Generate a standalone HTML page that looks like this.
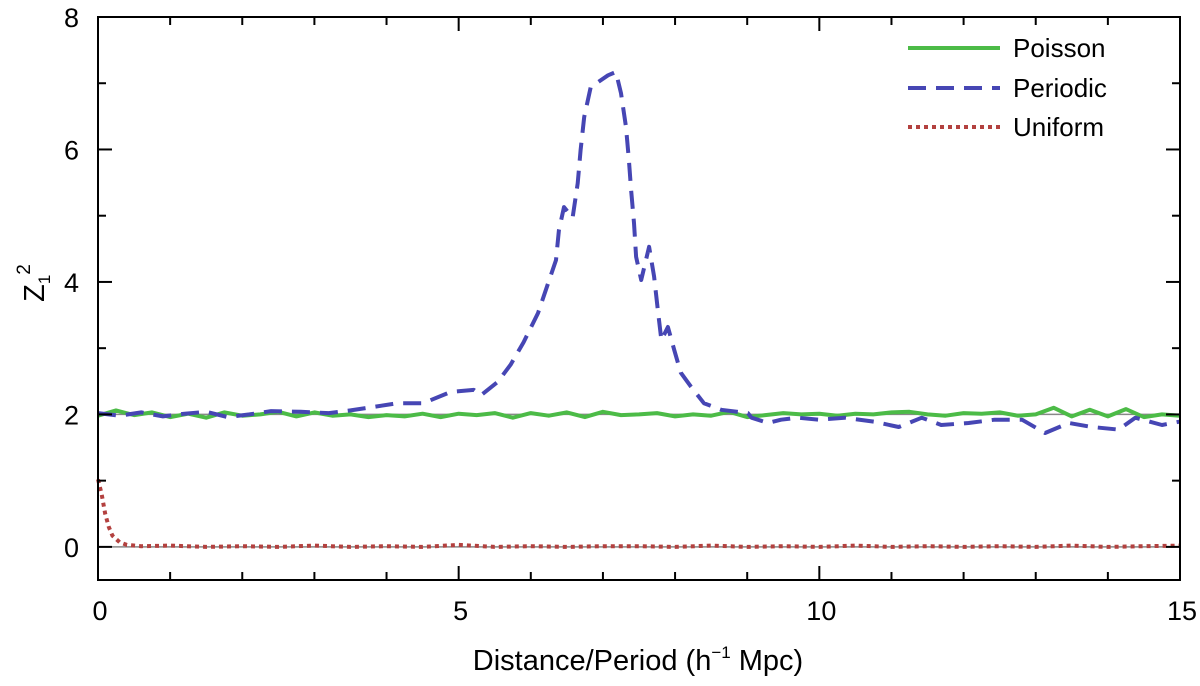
<!DOCTYPE html>
<html><head><meta charset="utf-8"><style>
body{margin:0;background:#fff}
svg text{font-family:"Liberation Sans",sans-serif;fill:#000}
</style></head><body>
<svg id="chart" width="1200" height="681" xmlns="http://www.w3.org/2000/svg">
<g id="grid"></g>
<g id="series"></g>
<g id="axes"></g>
<g>
<line x1="908" y1="48" x2="1000" y2="48" stroke="#4cbb47" stroke-width="4"/>
<text x="1013" y="57" font-size="26">Poisson</text>
<line x1="908" y1="88" x2="1000" y2="88" stroke="#4646b4" stroke-width="4" stroke-dasharray="18,10"/>
<text x="1013" y="97" font-size="26">Periodic</text>
<line x1="908" y1="127" x2="1000" y2="127" stroke="#b3413f" stroke-width="4" stroke-dasharray="4,4"/>
<text x="1013" y="136" font-size="26">Uniform</text>
</g>
<text x="638" y="670" font-size="29" text-anchor="middle">Distance/Period (h<tspan font-size="17" dy="-12">−1</tspan><tspan dy="12"> Mpc)</tspan></text>
<g transform="translate(44,283) rotate(-90)"><text x="0" y="0" font-size="29" text-anchor="middle">Z<tspan font-size="17" dy="6">1</tspan><tspan font-size="19" dy="-20">2</tspan></text></g>
</svg>
<script>
const xTicks=[0,5,10,15];
const yTicks=[0,2,4,6,8];
const periodicX=[0,0.3,0.6,0.9,1.2,1.5,1.8,2.1,2.4,2.81,3.2,3.5,3.74,4.15,4.51,4.89,5.21,5.31,5.54,5.72,5.90,6.10,6.24,6.35,6.39,6.46,6.58,6.65,6.69,6.74,6.83,7.07,7.18,7.25,7.32,7.36,7.39,7.43,7.46,7.53,7.64,7.71,7.76,7.81,7.90,7.99,8.08,8.22,8.40,8.64,9.01,9.06,9.29,9.47,9.7,9.99,10.35,10.76,11.10,11.42,11.69,12.07,12.43,12.81,13.13,13.46,13.78,14.15,14.38,14.75,14.99];
const periodicY=[2.02,1.98,2.03,1.97,2.01,2.04,1.96,2.0,2.05,2.04,2.02,2.06,2.10,2.17,2.17,2.34,2.37,2.29,2.49,2.75,3.09,3.53,3.98,4.33,4.78,5.13,4.97,5.49,5.99,6.49,6.94,7.12,7.17,6.85,6.34,5.84,5.39,4.89,4.38,4.03,4.53,4.08,3.58,3.12,3.32,2.97,2.63,2.42,2.17,2.07,2.02,1.95,1.87,1.92,1.95,1.92,1.95,1.89,1.81,1.95,1.84,1.87,1.92,1.92,1.72,1.87,1.81,1.77,1.95,1.84,1.89];
const poissonX=[0,0.25,0.5,0.75,1,1.25,1.5,1.75,2,2.25,2.5,2.75,3,3.25,3.5,3.75,4,4.25,4.5,4.75,5,5.25,5.5,5.75,6,6.25,6.5,6.75,7,7.25,7.5,7.75,8,8.25,8.5,8.75,9,9.25,9.5,9.75,10,10.25,10.5,10.75,11,11.25,11.5,11.75,12,12.25,12.5,12.75,13,13.25,13.5,13.75,14,14.25,14.5,14.75,15];
const poissonY=[1.98,2.06,1.99,2.03,1.96,2.01,1.95,2.03,1.98,2.0,2.04,1.97,2.03,1.98,2.0,1.96,1.99,1.97,2.01,1.96,2.01,1.99,2.02,1.95,2.02,1.98,2.03,1.96,2.04,1.99,2.0,2.02,1.97,2.0,1.98,2.04,1.96,1.99,2.02,2.0,2.01,1.98,2.01,2.0,2.03,2.04,2.0,1.98,2.02,2.01,2.03,1.98,2.0,2.1,1.97,2.07,1.97,2.08,1.96,2.0,1.98];
const uniformX=[0,0.05,0.1,0.15,0.2,0.3,0.4,0.6,1,1.5,2,2.5,3,3.5,4,4.5,5,5.5,6,6.5,7,7.5,8,8.5,9,9.5,10,10.5,11,11.5,12,12.5,13,13.5,14,14.5,15];
const uniformY=[1.02,0.8,0.5,0.3,0.17,0.07,0.03,0.01,0.02,0.0,0.01,0.0,0.02,0.0,0.01,0.0,0.03,0.0,0.01,0.0,0.01,0.01,0.0,0.02,0.0,0.01,0.0,0.02,0.0,0.01,0.0,0.01,0.0,0.02,0.0,0.01,0.02];

const X0=98,X1=1180,Y0=580,Y1=17;
const sx=v=>X0+(v-0)/15*(X1-X0);
const sy=v=>Y0-(v+0.5)/8.5*(Y0-Y1);
const NS="http://www.w3.org/2000/svg";
function mk(tag,attrs,parent){const e=document.createElementNS(NS,tag);for(const k in attrs)e.setAttribute(k,attrs[k]);parent.appendChild(e);return e;}
const grid=document.getElementById('grid'),series=document.getElementById('series'),axes=document.getElementById('axes');
[0,2].forEach(v=>{const l=mk('line',{x1:X0,x2:X1,y1:sy(v),y2:sy(v),stroke:'#888','stroke-width':1.5},grid);

});
function path(xs,ys,attrs,name){const d=xs.map((x,i)=>(i?'L':'M')+sx(x).toFixed(1)+','+sy(ys[i]).toFixed(1)).join('');
const p=mk('path',Object.assign({d:d,fill:'none','stroke-width':4,'stroke-linejoin':'round'},attrs),series);

}
path(poissonX,poissonY,{stroke:'#4cbb47'},'poisson-line');
path(periodicX,periodicY,{stroke:'#4646b4','stroke-dasharray':'18,10'},'periodic-line');
path(uniformX,uniformY,{stroke:'#b3413f','stroke-dasharray':'4,4'},'uniform-line');
const fr=mk('rect',{x:X0,y:Y1,width:X1-X0,height:Y0-Y1,fill:'none',stroke:'#000','stroke-width':2},axes);


for(let v=0;v<=15;v++){const major=xTicks.includes(v);const L=major?14:8;
mk('line',{x1:sx(v),x2:sx(v),y1:Y0,y2:Y0-L,stroke:'#000','stroke-width':2},axes);
mk('line',{x1:sx(v),x2:sx(v),y1:Y1,y2:Y1+L,stroke:'#000','stroke-width':2},axes);}
xTicks.forEach(v=>{const t=mk('text',{x:sx(v)+2,y:620,'font-size':27,'text-anchor':'middle'},axes);t.textContent=v;

});
for(let v=0;v<=8;v++){const major=yTicks.includes(v);const L=major?14:8;
mk('line',{x1:X0,x2:X0+L,y1:sy(v),y2:sy(v),stroke:'#000','stroke-width':2},axes);
mk('line',{x1:X1,x2:X1-L,y1:sy(v),y2:sy(v),stroke:'#000','stroke-width':2},axes);}
yTicks.forEach(v=>{const t=mk('text',{x:79,y:sy(v)+10,'font-size':27,'text-anchor':'end'},axes);t.textContent=v;

});
</script>
</body></html>
